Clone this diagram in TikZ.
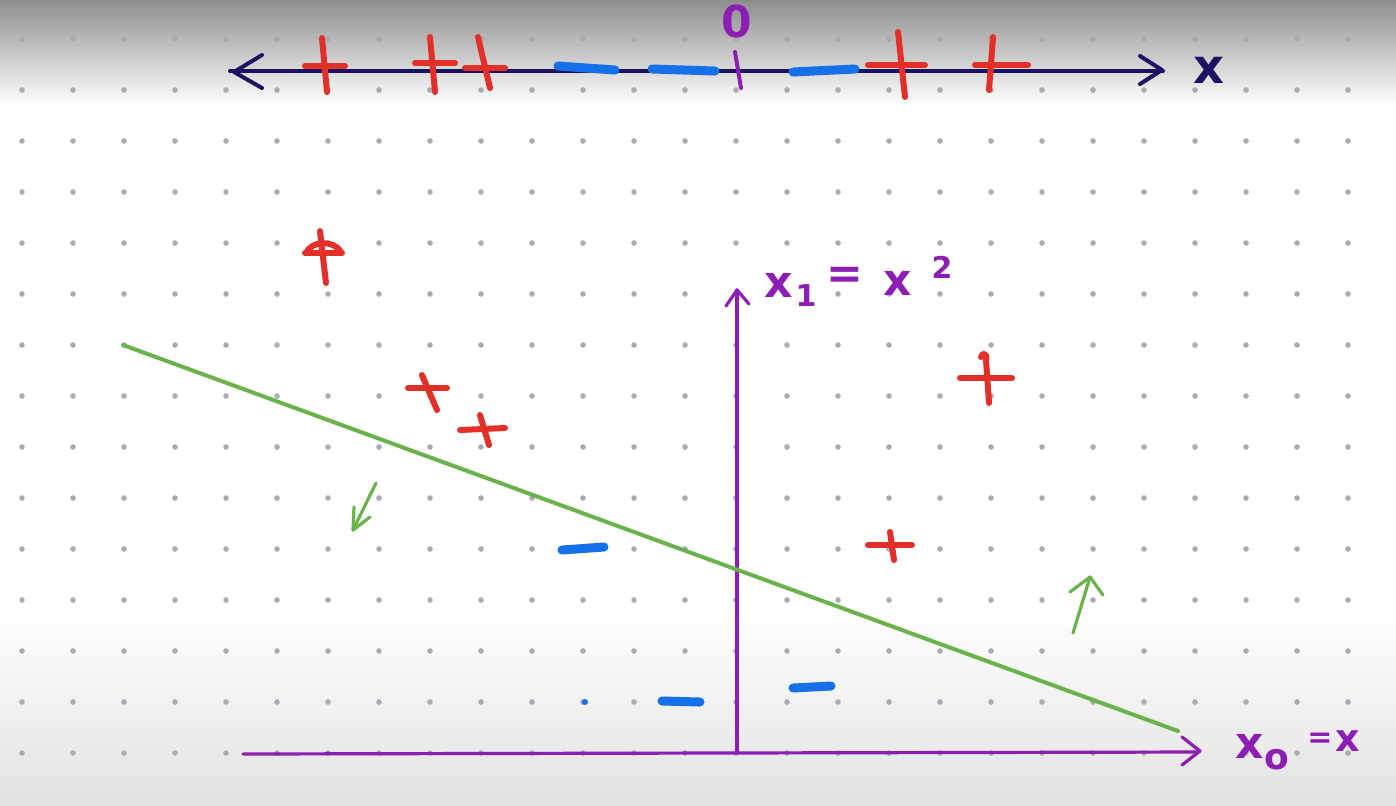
\documentclass[tikz,border=0pt]{standalone}
\usepackage{fontspec}
\setmainfont{DejaVu Sans}
\definecolor{navyc}{RGB}{28,18,98}
\definecolor{redc}{RGB}{226,48,40}
\definecolor{bluec}{RGB}{22,112,232}
\definecolor{purpc}{RGB}{140,30,180}
\definecolor{grnc}{RGB}{106,178,76}
\definecolor{dotc}{RGB}{170,170,180}
\definecolor{topgrey}{RGB}{142,142,142}
\definecolor{botgrey}{RGB}{226,226,228}
\begin{document}
\begin{tikzpicture}[x=0.5pt,y=-0.5pt,line cap=round,line join=round,
  navy/.style={draw=navyc,line width=2pt},
  redp/.style={draw=redc,line width=3pt},
  bluem/.style={draw=bluec,line width=4.5pt},
  purp/.style={draw=purpc,line width=1.6pt},
  grn/.style={draw=grnc,line width=1.6pt},
  lbl/.style={text=purpc,inner sep=0pt,font=\bfseries\fontsize{22}{22}\selectfont},
  sub/.style={text=purpc,inner sep=0pt,font=\bfseries\fontsize{15}{15}\selectfont},
  dot/.style={fill=dotc}]
\useasboundingbox (0,0) rectangle (1396,805);
% background
\fill[white] (0,0) rectangle (1396,805);
\shade[top color=topgrey,bottom color=white] (0,0) rectangle (1396,105);
\shade[top color=white,bottom color=botgrey] (0,610) rectangle (1396,805);
% grid dots
\foreach \i in {0,...,26} {\foreach \j in {0,...,14} {
  \fill[dot] (22+51*\i,39+51*\j) circle (1.4pt);}}
% top axis
\draw[navy] (230,71) -- (1163,71);
\draw[navy] (262,55) -- (234,72) -- (262,88);
\draw[navy] (1140,56) -- (1162,70) -- (1140,84);
\node[text=navyc,inner sep=0pt,font=\bfseries\fontsize{24}{24}\selectfont] (xlab) at (1209,70) {x};
\node[text=purpc,inner sep=0pt,font=\bfseries\fontsize{22}{22}\selectfont] (zero) at (737,21) {0};
\draw[purp,line width=2pt] (735,52) -- (741,88);
% top minus marks
\draw[bluem] (558,66) -- (615,70);
\draw[bluem] (652,69) -- (715,71);
\draw[bluem] (793,72) -- (855,69);
% top plus marks
\draw[redp] (305,66) -- (345,66); \draw[redp] (322,38) -- (327,92);
\draw[redp] (415,63) -- (455,63); \draw[redp] (430,37) -- (435,92);
\draw[redp] (465,68) -- (505,68); \draw[redp] (478,37) -- (490,88);
\draw[redp] (868,65) -- (925,65); \draw[redp] (898,32) -- (905,97);
\draw[redp] (975,65) -- (1028,65); \draw[redp] (993,37) -- (989,90);
% lower axes
\draw[purp] (243,754) -- (1198,752);
\draw[purp] (1182,737) -- (1200,751) -- (1182,765);
\draw[purp] (737,752) -- (737,290);
\draw[purp] (726,306) -- (737,290) -- (749,304);
% axis labels
\node[lbl] (x1a) at (779,285) {x};
\node[sub] (x1b) at (806,296) {1};
\node[lbl] (x1c) at (845,278) {=};
\node[lbl] (x1d) at (898,283) {x};
\node[sub] (x1e) at (942,267) {2};
\node[lbl] (x0a) at (1250,746) {x};
\node[sub,font=\bfseries\fontsize{18}{18}\selectfont] (x0b) at (1277,760) {o};
\node[sub] (x0c) at (1320,740) {=};
\node[lbl,font=\bfseries\fontsize{19}{19}\selectfont] (x0d) at (1348,741) {x};
% separating line
\draw[grn,line width=2pt] (123,345) -- (1178,731);
\draw[grn] (376,483) -- (353,530); \draw[grn] (354,507) -- (353,530) -- (370,517);
\draw[grn] (1073,633) -- (1090,577); \draw[grn] (1070,592) -- (1090,577) -- (1103,595);
% lower plus marks
\draw[redp] (305,253) -- (342,253); \draw[redp] (320,231) -- (326,283);
\draw[redp] (306,253) .. controls (312,240) and (334,240) .. (341,252);
\draw[redp] (408,388) -- (447,388); \draw[redp] (422,375) -- (437,410);
\draw[redp] (460,430) -- (505,428); \draw[redp] (480,415) -- (489,445);
\draw[redp] (960,378) -- (1012,378);
\draw[redp] (981,357) .. controls (982,352) and (988,353) .. (986,360) -- (989,403);
\draw[redp] (868,545) -- (912,545); \draw[redp] (890,532) -- (894,560);
% lower minus marks
\draw[bluem] (562,550) -- (604,547);
\draw[bluem] (662,701) -- (700,702);
\draw[bluem] (793,688) -- (831,686);
\fill[bluec] (585,702) circle (1.5pt);
\end{tikzpicture}
\end{document}
